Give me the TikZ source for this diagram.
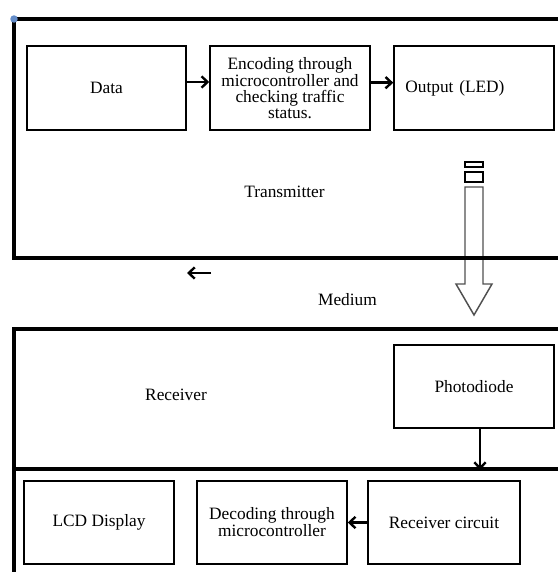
\documentclass[tikz,border=0pt]{standalone}
\usepackage{fontspec}
\setmainfont{Liberation Serif}
\usetikzlibrary{arrows.meta}

\begin{document}
\begin{tikzpicture}[x=0.75pt,y=0.75pt,yscale=-1,xscale=1,
  blk/.style={draw, line width=1.1, minimum width=120pt, minimum height=63pt, align=center, inner sep=2pt, font=\fontsize{13}{11.8}\selectfont},
  frm/.style={line width=2.3},
  lnk/.style={line width=1.8, -{Straight Barb[length=4.5pt,width=8.5pt]}},
  lbl/.style={font=\fontsize{13}{11.8}\selectfont}]
\useasboundingbox (0,0) rectangle (558,572);

%Shape: Arrow (light from LED)
\draw [color={rgb, 255:red, 80; green, 80; blue, 80 }, line width=1.1] (465,187) -- (483,187) -- (483,284) -- (492,284) -- (474,315) -- (456,284) -- (465,284) -- cycle ;
%Shape: Rectangle
\draw [line width=1] (465,162) rectangle (483,167) ;
%Shape: Rectangle
\draw [line width=1] (465,172) rectangle (483,182) ;

%Straight Lines (transmitter frame)
\draw [frm] (558,19) -- (14,19) -- (14,258) -- (558,258) ;
\fill [color={rgb, 255:red, 100; green, 140; blue, 200 }] (14,19) circle (2.8pt) ;
%Straight Lines (receiver frame)
\draw [frm] (558,329) -- (14,329) -- (14,572) ;
\draw [frm] (14,469) -- (558,469) ;

%Shape: Rectangle
\draw (106.5,88) node (data) [blk, minimum width=119.25pt] {Data};
%Shape: Rectangle
\draw (290,88) node (enc) [blk] {Encoding through\\microcontroller and\\checking traffic\\status.};
%Shape: Rectangle
\draw (474,88) node (led) [blk, align=left, text width=103pt, inner xsep=8.5pt] {Output (LED)};
%Shape: Rectangle
\draw (474,386.5) node (pd) [blk, minimum height=62.25pt] {Photodiode};
%Shape: Rectangle
\draw (99,522.5) node (lcd) [blk, minimum width=112.5pt, minimum height=62.25pt] {LCD Display};
%Shape: Rectangle
\draw (272,522.5) node (dec) [blk, minimum width=112.5pt, minimum height=62.25pt] {Decoding through\\microcontroller};
%Shape: Rectangle
\draw (444,522.5) node (rxc) [blk, minimum width=114pt, minimum height=62.25pt] {Receiver circuit};

%Straight Lines
\draw [lnk] ([yshift=-4.5pt]data.east) -- ([yshift=-4.5pt]enc.west) ;
\draw [lnk] ([yshift=-4pt]enc.east) -- ([yshift=-4pt]led.west) ;
\coordinate (rxline) at (480,470) ;
\draw [lnk] ([xshift=4.5pt]pd.south) -- (rxline) ;
\draw [lnk] (rxc.west) -- (dec.east) ;
\coordinate (mdA) at (211,273) ;
\coordinate (mdB) at (187,273) ;
\draw [lnk] (mdA) -- (mdB) ;

% Text Node
\draw (284.5,192) node (tx) [lbl] {Transmitter};
% Text Node
\draw (347.5,300) node (md) [lbl] {Medium};
% Text Node
\draw (176,395) node (rx) [lbl] {Receiver};

\end{tikzpicture}
\end{document}
